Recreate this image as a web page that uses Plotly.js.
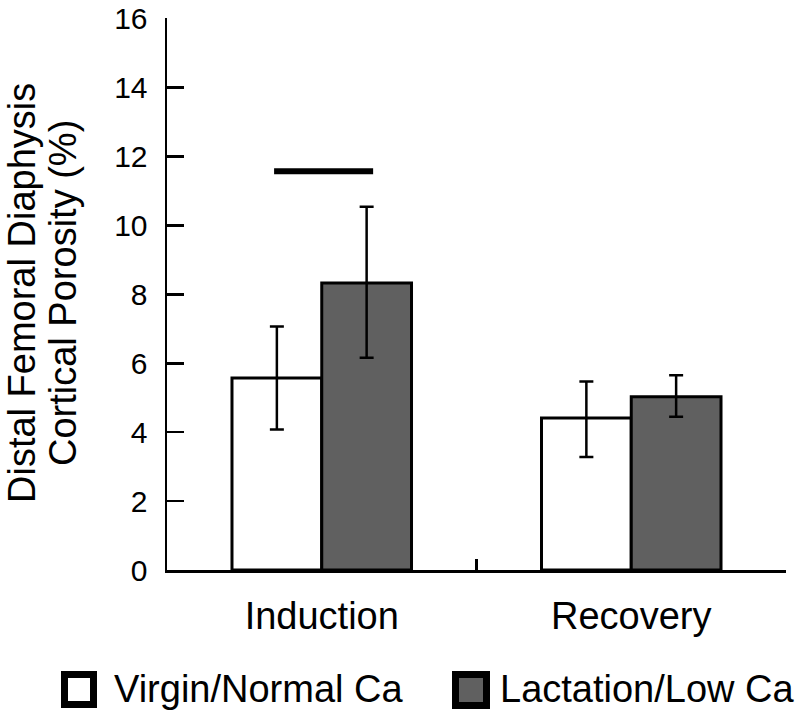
<!DOCTYPE html>
<html>
<head>
<meta charset="utf-8">
<script src="https://cdn.plot.ly/plotly-3.0.1.min.js"></script>
<style>
  html, body { margin: 0; padding: 0; background: #ffffff; }
  #chart { width: 800px; height: 711px; }
</style>
</head>
<body>
<div id="chart"></div>
<script>
// ---- data ----
const categories = ["Induction", "Recovery"];
const seriesNames = ["Virgin/Normal Ca", "Lactation/Low Ca"];
const virginValues = [5.57, 4.41];
const virginErrPlus = [1.50, 1.06];
const virginErrMinus = [1.49, 1.13];
const lactationValues = [8.33, 5.03];
const lactationErrPlus = [2.21, 0.62];
const lactationErrMinus = [2.17, 0.58];
const yTickValues = [0, 2, 4, 6, 8, 10, 12, 14, 16];
const yTitleLines = ["Distal Femoral Diaphysis", "Cortical Porosity (%)"];
// significance bar over the Induction group: [x start, x end] in category units, y level
const sigBarX = [-0.154, 0.166];
const sigBarY = 11.57;

const FONT = "Arial, 'Liberation Sans', Helvetica, sans-serif";
const INK = "#000000";
const GRAY = "#606060";

const errStyle = { color: INK, thickness: 2.5, width: 7 };

const traces = [
  {
    type: "bar",
    name: seriesNames[0],
    x: categories,
    y: virginValues,
    marker: { color: "#ffffff", line: { color: INK, width: 3 } },
    error_y: Object.assign({ type: "data", symmetric: false, array: virginErrPlus, arrayminus: virginErrMinus }, errStyle),
    showlegend: false,
    hoverinfo: "skip"
  },
  {
    type: "bar",
    name: seriesNames[1],
    x: categories,
    y: lactationValues,
    marker: { color: GRAY, line: { color: INK, width: 3 } },
    error_y: Object.assign({ type: "data", symmetric: false, array: lactationErrPlus, arrayminus: lactationErrMinus }, errStyle),
    showlegend: false,
    hoverinfo: "skip"
  }
];

// plot area geometry (used to place the hand-drawn legend and the axis title)
const L = 167, R = 14, T = 18, B = 141, W = 800, H = 711;
const pw = W - L - R, ph = H - T - B;
const px = v => (v - L) / pw;
const py = v => (H - B - v) / ph;

const legendItems = [
  { name: seriesNames[0], fill: "#ffffff", box: [64.5, 93.5, 674.5, 704.5], textX: 112 },
  { name: seriesNames[1], fill: GRAY, box: [455.5, 486.5, 674.5, 705.5], textX: 498 }
];

const shapes = [
  {
    type: "line", xref: "x", yref: "y",
    x0: sigBarX[0], x1: sigBarX[1], y0: sigBarY, y1: sigBarY,
    line: { color: INK, width: 6 }
  }
];
const annotations = [];
legendItems.forEach(it => {
  shapes.push({
    type: "rect", xref: "paper", yref: "paper",
    x0: px(it.box[0]), x1: px(it.box[1]), y0: py(it.box[2]), y1: py(it.box[3]),
    fillcolor: it.fill, line: { color: INK, width: 7 }
  });
  annotations.push({
    xref: "paper", yref: "paper", x: px(it.textX), y: py(689),
    xanchor: "left", yanchor: "middle", showarrow: false,
    text: it.name, font: { family: FONT, size: 38, color: INK }
  });
});
// y-axis title, two rotated lines
const titleCentersX = [22, 63];
yTitleLines.forEach((line, i) => {
  annotations.push({
    xref: "paper", yref: "paper", x: px(titleCentersX[i]), y: py(293),
    xanchor: "center", yanchor: "middle", showarrow: false, textangle: -90,
    borderpad: 0,
    text: line, font: { family: FONT, size: 38, color: INK }
  });
});

const layout = {
  width: W, height: H,
  margin: { l: L, r: R, t: T, b: B, pad: 0 },
  paper_bgcolor: "#ffffff",
  plot_bgcolor: "#ffffff",
  showlegend: false,
  barmode: "group",
  bargap: 0.42,
  bargroupgap: 0,
  font: { family: FONT, color: INK },
  xaxis: {
    type: "category",
    range: [-0.5, 1.5],
    tickson: "boundaries",
    ticks: "inside",
    ticklen: 11,
    tickwidth: 2.5,
    tickcolor: INK,
    showline: true,
    linecolor: INK,
    linewidth: 2.5,
    showgrid: false,
    zeroline: false,
    tickfont: { family: FONT, size: 38, color: INK },
    ticklabelstandoff: 11
  },
  yaxis: {
    range: [0, 16.02],
    tickvals: yTickValues,
    ticktext: yTickValues.map(String),
    ticks: "inside",
    ticklen: 17,
    tickwidth: 2.5,
    tickcolor: INK,
    showline: true,
    linecolor: INK,
    linewidth: 2.5,
    showgrid: false,
    zeroline: false,
    ticklabeloverflow: "allow",
    tickfont: { family: FONT, size: 30, color: INK },
    ticklabelstandoff: 11
  },
  shapes: shapes,
  annotations: annotations
};

Plotly.newPlot("chart", traces, layout, { staticPlot: true, displayModeBar: false });
</script>
</body>
</html>
